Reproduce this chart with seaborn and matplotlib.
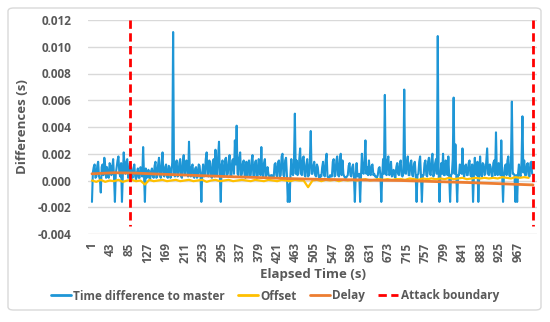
import matplotlib
matplotlib.use("Agg")
import matplotlib.pyplot as plt
from matplotlib.patches import FancyBboxPatch
import seaborn as sns
import numpy as np
import pandas as pd

# Time difference to master, in milliseconds, read every 4 s (t = 1, 5, 9, ...)
time_diff_ms = [
    -1.6, 1.0, 0.2, 1.1, 0.3, -0.9, 1.2, 1.7, 0.2, 0.3,
    1.3, 0.4, 1.6, -1.6, 1.0, 1.8, 0.3, -1.6, 2.1, 0.5,
    1.6, 0.3, 1.1, 0.2, 1.2, 0.1, 0.9, 0.2, 0.8, 2.5,
    -1.6, 0.2, 0.8, 0.1, 0.9, 0.2, 1.4, 0.3, 1.7, 0.2,
    2.1, 0.3, 1.2, 0.2, 1.0, 0.4, 11.1, 0.3, 1.5, 0.4,
    1.6, 0.2, 1.9, 0.5, 1.3, 2.9, 0.3, 1.2, 0.2, 1.0,
    0.3, 1.1, -1.6, 1.2, 0.4, 2.1, 0.3, 1.3, 0.2, 1.6,
    2.3, 0.4, 2.9, -1.6, 1.5, 0.3, 1.7, 0.5, 1.9, 0.3,
    1.6, 3.0, 4.1, 0.4, 2.1, 0.5, 1.5, 0.2, 0.3, 1.5,
    0.4, 1.9, 0.3, 1.5, 0.4, 1.2, 2.5, 0.3, 1.6, 0.4,
    0.5, 0.2, 0.4, 0.2, 1.3, 0.3, 1.5, 0.4, 2.0, 0.3,
    1.7, -1.6, -1.6, 1.6, 0.4, 5.0, 1.5, 0.5, 2.4, 0.4,
    1.8, 0.3, 1.6, 0.4, 3.7, 0.5, 1.4, 0.3, 1.0, 0.2,
    0.3, 1.4, 0.3, 2.0, 0.2, 0.4, 0.3, 1.6, 0.4, 1.8,
    0.3, 2.0, 1.5, 0.3, 0.2, 0.4, 1.3, 0.3, 1.2, -1.6,
    1.3, 0.4, -1.6, 2.0, 0.5, 3.0, 1.0, 1.5, 0.4, 1.2,
    0.5, 0.3, 0.4, 1.0, -1.6, 1.6, 6.4, 0.4, 1.8, 0.5,
    0.3, 0.8, 0.2, 1.3, 0.4, 1.5, 0.3, 6.8, 0.5, 1.8,
    0.4, 1.5, 0.3, 1.4, -1.6, 0.5, 1.8, -1.6, 0.4, 1.5,
    0.3, 1.7, 0.4, 2.0, 0.5, 1.6, 10.8, -1.6, 1.3, 2.0,
    0.4, 1.2, 1.8, -1.6, 0.5, 6.2, 2.7, -1.6, 0.4, 1.0,
    2.4, 0.3, 1.2, 0.4, 1.5, 0.3, -1.6, 1.7, 0.4, -1.6,
    1.8, 0.3, 1.2, 0.5, 2.4, 0.4, 1.0, 0.3, 1.5, 3.6,
    0.4, 1.1, 3.0, -1.6, 1.0, 0.4, 1.8, 0.3, 5.9, 0.5,
    -1.6, -1.6, 1.2, 0.3, 4.8, 1.5, 0.4, 1.3, 0.3, 1.4,
]

# The readings in between, t = 3, 7, 11, ...
time_diff_mid_ms = [
    0.6, 1.2, 0.3, 1.4, 0.1, 1.0, 0.4, 1.1, 1.0, 0.2,
    1.1, 0.9, 0.3, 0.5, 1.5, 0.6, 1.3, 0.4, 1.0, 1.4,
    0.2, 1.3, 0.4, 0.9, 0.3, 0.6, 0.2, 1.0, 0.3, 0.4,
    0.9, 0.3, 0.2, 0.7, 0.3, 1.1, 0.2, 1.2, 0.4, 1.3,
    0.4, 1.0, 0.3, 1.1, 0.2, 1.4, 0.5, 1.2, 0.3, 1.3,
    0.3, 1.4, 0.4, 1.5, 0.3, 0.5, 1.0, 0.3, 0.9, 0.2,
    1.2, 0.4, 0.5, 0.3, 1.6, 0.4, 1.5, 0.3, 1.4, 0.3,
    0.5, 1.8, 0.4, 1.2, 0.3, 1.6, 0.4, 1.4, 0.3, 1.5,
    0.5, 1.2, 0.5, 1.7, 0.3, 1.3, 0.4, 1.4, 1.2, 0.3,
    1.5, 0.3, 1.4, 0.2, 1.6, 0.4, 0.5, 1.3, 0.3, 1.0,
    0.3, 0.4, 0.2, 1.2, 0.4, 1.4, 0.3, 1.8, 0.4, 1.5,
    0.4, -0.3, 0.4, 0.5, 1.4, 0.5, 0.4, 1.6, 0.5, 1.7,
    0.4, 1.2, 0.3, 1.5, 0.5, 1.1, 0.4, 1.2, 0.3, 0.4,
    1.0, 0.4, 1.5, 0.3, 0.2, 0.3, 1.4, 0.3, 1.5, 0.4,
    1.6, 0.4, 0.5, 0.2, 0.3, 1.1, 0.4, 1.0, 0.3, 0.4,
    0.3, 0.5, 0.4, 0.6, 1.5, 0.5, 0.4, 0.5, 1.1, 0.4,
    0.3, 0.2, 0.9, 0.4, 0.3, 0.5, 0.5, 1.5, 0.4, 1.4,
    0.6, 0.3, 1.0, 0.5, 1.3, 0.4, 0.5, 0.6, 1.4, 0.4,
    1.3, 0.4, 1.2, 0.4, 0.4, 1.4, 0.3, 0.4, 1.3, 0.4,
    1.4, 0.5, 1.6, 0.3, 1.3, 0.5, 0.6, 0.4, 0.5, 0.4,
    1.5, 0.4, 0.3, 0.4, 1.6, 0.5, 0.4, 0.4, 1.2, 0.5,
    0.5, 1.1, 0.4, 1.3, 0.4, 1.2, 0.4, 0.5, 1.4, 0.4,
    0.5, 1.3, 0.4, 1.5, 0.5, 1.2, 0.4, 1.3, 0.4, 0.5,
    1.3, 0.4, 0.5, 0.4, 1.2, 1.5, 0.4, 1.4, 0.5, 0.4,
    0.4, 0.5, 0.4, 1.5, 0.6, 0.4, 1.2, 0.4, 1.3, 0.5,
]

# Offset, in milliseconds, every 10 s (t = 1, 11, 21, ...)
offset_ms = [
    0.0, -0.1, 0.05, -0.1, 0.0, -0.05, 0.05, -0.1, 0.0, 0.05,
    -0.05, 0.0, -0.3, 0.05, -0.05, 0.0, 0.05, -0.05, 0.0, 0.05,
    -0.05, 0.0, 0.05, -0.05, 0.0, 0.05, -0.1, 0.0, 0.05, -0.05,
    0.0, 0.05, -0.05, 0.0, 0.05, 0.0, -0.05, 0.05, 0.0, -0.05,
    0.05, 0.0, -0.05, 0.05, 0.0, -0.05, 0.05, 0.0, 0.0, -0.5,
    0.0, 0.05, -0.05, 0.05, 0.0, 0.05, -0.05, 0.05, 0.0, 0.05,
    0.0, 0.05, 0.1, 0.0, 0.05, 0.1, 0.05, 0.1, 0.05, 0.1,
    0.1, 0.05, 0.15, 0.1, 0.05, 0.15, 0.1, 0.15, 0.1, 0.15,
    0.1, 0.2, 0.1, 0.15, 0.2, 0.1, 0.15, 0.2, 0.15, 0.2,
    0.15, 0.2, 0.15, 0.25, 0.2, 0.15, 0.25, 0.2, 0.25, 0.2,
]

# Delay, in milliseconds, every 50 s (t = 1, 51, ..., 1001)
delay_ms = [0.50, 0.58, 0.55, 0.48, 0.42, 0.36, 0.30, 0.25, 0.20, 0.14,
            0.10, 0.07, 0.05, 0.02, 0.00, -0.05, -0.10, -0.15, -0.21, -0.27, -0.33]

boundary_t = [87, 1000]
boundary_span = [0.012, -0.0034]

x_ticks = list(range(1, 1000, 42))
y_ticks = [-0.004, -0.002, 0.0, 0.002, 0.004, 0.006, 0.008, 0.010, 0.012]

blue = "#1E96D6"
yellow = "#FFC000"
orange = "#ED7D31"
red = "#FF0000"
grey = "#595959"

diff_values = np.column_stack([time_diff_ms, time_diff_mid_ms]).ravel() / 1000
df_diff = pd.DataFrame({"t": np.arange(1, 1001, 2), "v": diff_values})
df_off = pd.DataFrame({"t": np.arange(1, 1001, 10), "v": np.array(offset_ms) / 1000})
df_delay = pd.DataFrame({"t": np.arange(1, 1002, 50), "v": np.array(delay_ms) / 1000})

sns.set_style("white")
plt.rcParams["font.family"] = ["Open Sans", "DejaVu Sans"]

fig = plt.figure(figsize=(5.5, 3.22), dpi=100)
fig.patches.append(FancyBboxPatch((8 / 550, 12 / 322), 533 / 550, 302 / 322,
                                  boxstyle="round,pad=0,rounding_size=0.01",
                                  transform=fig.transFigure, facecolor="none",
                                  edgecolor="#D9D9D9", linewidth=1, zorder=-1))
ax = fig.add_axes([88 / 550, 1 - 234 / 322, 449 / 550, 214 / 322])
ax.set_facecolor("none")

sns.lineplot(data=df_diff, x="t", y="v", ax=ax, color=blue, linewidth=1.5,
             label="Time difference to master", sort=False)
sns.lineplot(data=df_off, x="t", y="v", ax=ax, color=yellow, linewidth=1.6,
             label="Offset", sort=False)
sns.lineplot(data=df_delay, x="t", y="v", ax=ax, color=orange, linewidth=2.0,
             label="Delay", sort=False)
for i, bt in enumerate(boundary_t):
    ax.plot([bt, bt], boundary_span, color=red, linewidth=2.0, dashes=(3, 1.6),
            label="Attack boundary" if i == 0 else None)

ax.set_xlim(-8, 1010)
ax.set_ylim(-0.004, 0.012)
ax.set_yticks(y_ticks)
ax.set_yticklabels([f"{v:.3f}" for v in y_ticks])
ax.set_xticks(x_ticks)
ax.set_xticklabels([str(v) for v in x_ticks], rotation=90)
ax.grid(axis="y", color="#D9D9D9", linewidth=1)
ax.set_axisbelow(True)
for side, spine in ax.spines.items():
    spine.set_visible(False)
ax.tick_params(axis="both", length=0, labelsize=8.5, labelcolor=grey)
ax.tick_params(axis="y", pad=12)
ax.tick_params(axis="x", pad=6)
for lab in ax.get_xticklabels() + ax.get_yticklabels():
    lab.set_fontweight("bold")

ax.set_xlabel("Elapsed Time (s)", fontsize=9.5, fontweight="bold", color=grey, labelpad=4)
ax.set_ylabel("Differences (s)", fontsize=9.5, fontweight="bold", color=grey, labelpad=6)

handles, labels = ax.get_legend_handles_labels()
ax.legend_.remove()
leg = fig.legend(handles, labels, loc="center", bbox_to_anchor=(0.5, 1 - 296 / 322),
                 ncol=4, frameon=False, handlelength=1.7, handletextpad=0.2,
                 columnspacing=1.1, prop={"size": 8.5, "weight": "bold"})
for line in leg.get_lines():
    line.set_linewidth(2.0)
for txt in leg.get_texts():
    txt.set_color(grey)

fig.savefig("out.png", dpi=100, facecolor="white")
